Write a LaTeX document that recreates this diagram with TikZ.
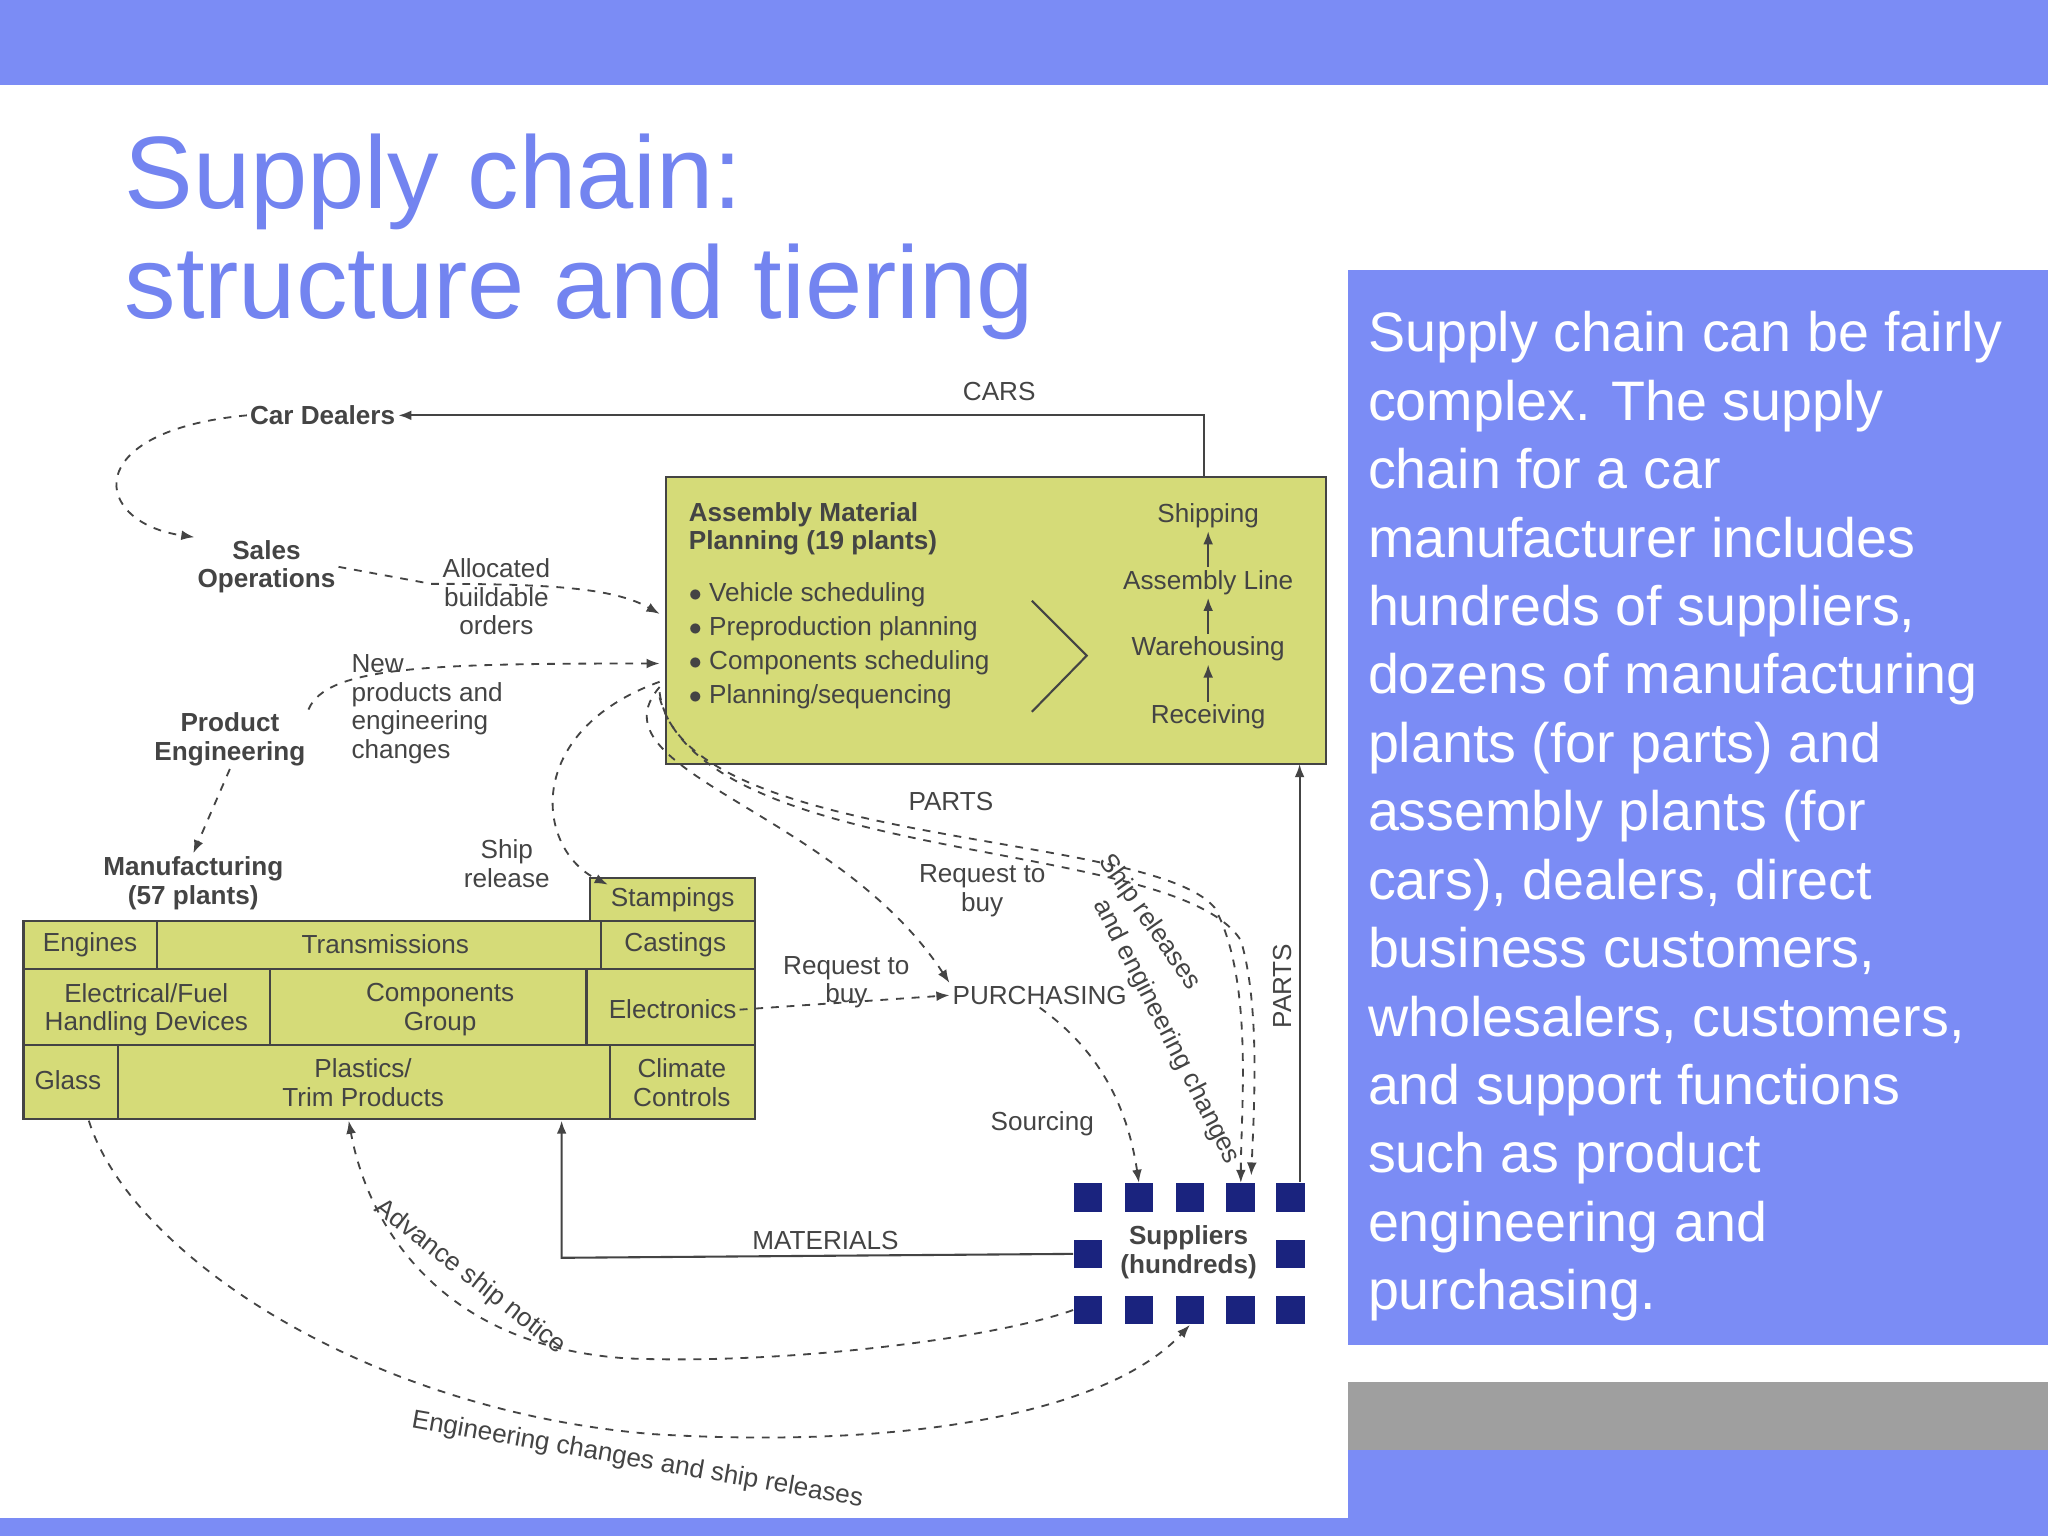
\documentclass[tikz,border=0pt]{standalone}
\usepackage{fontspec}
\setmainfont{Liberation Sans}
\usetikzlibrary{arrows.meta,positioning}
\definecolor{slide}{HTML}{7B8CF5}
\definecolor{ttl}{HTML}{7384F0}
\definecolor{olive}{HTML}{D5DB78}
\definecolor{navy}{HTML}{1A237E}
\definecolor{ink}{HTML}{444444}
\begin{document}
\begin{tikzpicture}[x=0.5pt,y=-0.5pt,
  lbl/.style={font=\fontsize{10}{11}\selectfont,text=ink,align=center,inner sep=1pt},
  blbl/.style={lbl,font=\fontsize{10}{11}\selectfont\bfseries},
  cell/.style={draw=ink,line width=0.8pt,fill=olive},
  dsh/.style={draw=ink,dashed,line width=0.7pt,-{Latex[length=5pt]}},
  sol/.style={draw=ink,line width=0.8pt,-{Latex[length=5pt]}},
  sq/.style={fill=navy,minimum size=11pt,inner sep=0pt}]
\useasboundingbox (0,0) rectangle (1568,1176);
\fill[white] (0,0) rectangle (1568,1176);
\fill[slide] (0,0) rectangle (1568,65);
\fill[slide] (0,1162) rectangle (1568,1176);
\fill[slide] (1032,1110) rectangle (1568,1176);
\fill[gray!75] (1032,1058) rectangle (1568,1110);
\node[anchor=north west,inner sep=0pt,text=ttl,align=left,font=\fontsize{39.4}{42}\selectfont] (title) at (95,102) {Supply chain:\\structure and tiering};
\fill[slide] (1032,207) rectangle (1568,1030);
\node[anchor=north west,inner sep=0pt,text=white,align=left,font=\fontsize{21.3}{26.2}\selectfont] (body) at (1047,238) {Supply chain can be fairly\\complex. The supply\\chain for a car\\manufacturer includes\\hundreds of suppliers,\\dozens of manufacturing\\plants (for parts) and\\assembly plants (for\\cars), dealers, direct\\business customers,\\wholesalers, customers,\\and support functions\\such as product\\engineering and\\purchasing.};
% assembly box
\draw[cell] (510,365) rectangle (1015,585);
\node[blbl,anchor=north west,align=left] (amp) at (525,382) {Assembly Material\\Planning (19 plants)};
\node[lbl,anchor=north west,align=left,font=\fontsize{10}{13}\selectfont] (list) at (525,444) {$\bullet$ Vehicle scheduling\\$\bullet$ Preproduction planning\\$\bullet$ Components scheduling\\$\bullet$ Planning/sequencing};
\draw[ink,line width=0.8pt] (790,460) -- (832,502) -- (790,545);
\node[lbl] (ship) at (925,395) {Shipping};
\node[lbl] (asl) at (925,446) {Assembly Line};
\node[lbl] (wh) at (925,497) {Warehousing};
\node[lbl] (rec) at (925,549) {Receiving};
\draw[sol] (rec) -- (wh); \draw[sol] (wh) -- (asl); \draw[sol] (asl) -- (ship);
\node[blbl] (dealers) at (247,318) {Car Dealers};
\node[lbl] (cars) at (765,300) {CARS};
\coordinate (c1) at (922,365); \coordinate (c2) at (922,318);
\draw[sol] (c1) -- (c2) -- (dealers);
\node[blbl] (sales) at (204,434) {Sales\\Operations};
\draw[dsh] (dealers.west) .. controls (60,330) and (70,400) .. (sales.north west);
\coordinate (a1) at (505,470);
\draw[dsh] (sales.east) -- (330,447) .. controls (420,447) and (470,450) .. (a1);
\node[lbl] (alloc) at (380,457) {Allocated\\buildable\\orders};
\node[blbl] (pe) at (176,566) {Product\\Engineering};
\node[lbl,align=left] (newp) at (327,543) {New\\products and\\engineering\\changes};
\coordinate (a2) at (505,508);
\draw[dsh] (pe.north east) .. controls (250,510) and (330,508) .. (a2);
\node[blbl] (mfg) at (148,676) {Manufacturing\\(57 plants)};
\draw[dsh] (pe.south) -- (mfg.north);
% manufacturing grid
\draw[cell] (452,672) rectangle (578,705); \node[lbl] (stamp) at (515,689) {Stampings};
\draw[cell] (18,705) rectangle (120,742); \node[lbl] at (69,723) {Engines};
\draw[cell] (120,705) rectangle (460,742); \node[lbl] at (295,723) {Transmissions};
\draw[cell] (460,705) rectangle (578,742); \node[lbl] at (517,723) {Castings};
\draw[cell] (18,742) rectangle (207,800); \node[lbl] at (112,773) {Electrical/Fuel\\Handling Devices};
\draw[cell] (207,742) rectangle (449,800); \node[lbl] at (337,773) {Components\\Group};
\draw[cell] (449,742) rectangle (578,800); \node[lbl] (elec) at (515,773) {Electronics};
\draw[cell] (18,800) rectangle (90,857); \node[lbl] at (52,827) {Glass};
\draw[cell] (90,800) rectangle (467,857); \node[lbl] at (278,829) {Plastics/\\Trim Products};
\draw[cell] (467,800) rectangle (578,857); \node[lbl] at (522,829) {Climate\\Controls};
\coordinate (mfgb) at (430,858); \coordinate (mfgl) at (267,858); \coordinate (mfgg) at (68,858);
% suppliers
\foreach \x/\i in {833/1,872/2,911/3,950/4,988/5} {
  \node[sq] (t\i) at (\x,917) {};
  \node[sq] (b\i) at (\x,1003) {};}
\node[sq] (m1) at (833,960) {}; \node[sq] (m5) at (988,960) {};
\node[blbl] (sup) at (910,959) {Suppliers\\(hundreds)};
% purchasing
\node[lbl,font=\fontsize{10}{11}\selectfont] (pur) at (796,762) {PURCHASING};
\draw[dsh] (elec.east) -- (pur.west);
\node[lbl] (rtb2) at (648,752) {Request to\\buy};
\node[lbl] (rtb1) at (752,682) {Request to\\buy};
\node[lbl] (parts1) at (728,614) {PARTS};
\node[lbl] (shiprel) at (388,661) {Ship\\release};
\draw[dsh] (505,522) .. controls (400,560) and (410,650) .. (stamp.north west);
\draw[dsh] (505,526) .. controls (450,590) and (640,620) .. (pur.north west);
\draw[dsh] (505,530) .. controls (520,650) and (880,635) .. (930,695) .. controls (960,750) and (950,850) .. (t4.north);
\draw[dsh] (505,534) .. controls (540,665) and (900,640) .. (950,720) .. controls (965,770) and (960,850) .. (958,900);
\node[lbl,rotate=-55] at (880,706) {Ship releases};
\node[lbl,rotate=-63] at (893,790) {and engineering changes};
\draw[dsh] (pur.south) .. controls (850,810) and (865,860) .. (t2.north);
\node[lbl] (src) at (798,860) {Sourcing};
\coordinate (p1) at (995,905);
\draw[sol] (p1) -- (995,585);
\node[lbl,rotate=90] (parts2) at (982,755) {PARTS};
\draw[sol] (m1.west) -- (430,963) -- (mfgb);
\node[lbl] (mat) at (632,950) {MATERIALS};
\draw[dsh] (b1.west) .. controls (760,1025) and (600,1045) .. (480,1040) .. controls (330,1030) and (280,930) .. (mfgl);
\node[lbl,rotate=-38] at (360,978) {Advance ship notice};
\draw[dsh] (mfgg) .. controls (100,960) and (280,1080) .. (500,1098) .. controls (700,1110) and (850,1080) .. (b3.south);
\node[lbl,rotate=-10] at (488,1118) {Engineering changes and ship releases};
\end{tikzpicture}
\end{document}
